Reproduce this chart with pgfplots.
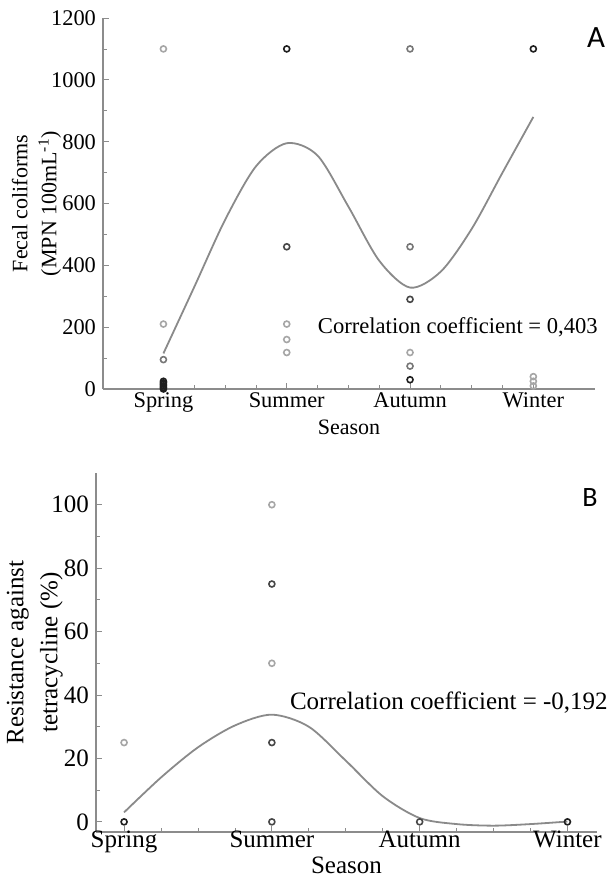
\documentclass[border=0pt]{standalone}
\usepackage{pgfplots}
\pgfplotsset{compat=1.18}
\usepackage{fontspec}
\setmainfont{Liberation Serif}
\newfontfamily\panelfont{Carlito}

\definecolor{lite}{HTML}{A6A6A6}
\definecolor{mid}{HTML}{777777}
\definecolor{dark}{HTML}{474747}
\definecolor{blk}{HTML}{1E1E1E}
\definecolor{axgray}{HTML}{8C8C8C}
\definecolor{fitgray}{HTML}{8A8A8A}

\pgfplotsset{
  season/.style={
    scale only axis,
    axis lines*=left,
    axis line style={axgray, line width=0.8pt, -},
    every tick/.style={axgray, line width=0.4pt},
    tick align=inside,
    major tick length=3pt, minor tick length=2pt,
    xtick={0,1,2,3},
    xticklabels={Spring,Summer,Autumn,Winter},
    minor x tick num=3,
    minor y tick num=1,
    /pgf/number format/assume math mode=true,
    /pgf/number format/1000 sep={},
    scaled y ticks=false,
    clip=false,
    ylabel style={align=center, anchor=center},
    xlabel style={anchor=center},
  },
  pts/.style={only marks, mark=o, mark size=1.5pt, line width=0.8pt,
    draw=#1, mark options={draw=#1}},
  fit/.style={fitgray, line width=0.9pt, smooth, no marks},
}

\begin{document}
\begin{tikzpicture}
\useasboundingbox (0,0) rectangle (304.5pt,-438pt);

% panel A
\begin{axis}[season,
  at={(51.5pt,-194.5pt)}, anchor=south west,
  width=246pt, height=185.5pt,
  xmin=-0.49, xmax=3.5, ymin=0, ymax=1200,
  ytick={0,200,...,1200},
  ticklabel style={font=\fontsize{11.2}{13}\selectfont},
  xticklabel style={yshift=1.5pt},
  label style={font=\fontsize{11}{14.5}\selectfont},
  ylabel={Fecal coliforms\\(MPN 100mL\textsuperscript{-1})},
  ylabel style={at={(axis description cs:-0.135,0.5)}},
  xlabel={Season},
  xlabel style={at={(axis description cs:0.5,-0.102)}},
]
\addplot[fit] coordinates {
  (0,115) (0.25,330) (0.5,547) (0.75,720) (1.0,795) (1.25,755) (1.5,590)
  (1.75,415) (2.0,328) (2.25,380) (2.5,518) (2.75,700) (3.0,880)
};
\addplot[pts=lite] coordinates {
  (0,1100) (0,210) (1,210) (1,160) (1,118) (2,118) (3,40) (3,25) (3,10)
};
\addplot[pts=mid] coordinates {
  (0,95) (2,1100) (2,460) (2,74)
};
\addplot[pts=dark] coordinates {
  (1,460) (2,290)
};
\addplot[pts=blk] coordinates {
  (0,0) (0,5) (0,10) (0,15) (0,20) (0,25) (1,1100) (2,30) (3,1100)
};
\node[anchor=west, inner sep=0, font=\fontsize{11.3}{13}\selectfont]
  at (axis cs:1.25,200) {Correlation coefficient = 0,403};
\end{axis}

% panel B
\begin{axis}[season,
  at={(48pt,-416pt)}, anchor=south west,
  width=250.5pt, height=179.5pt,
  xmin=-0.19, xmax=3.2, ymin=-3.2, ymax=110,
  ytick={0,20,...,100},
  ticklabel style={font=\fontsize{12.5}{14}\selectfont},
  xticklabel style={yshift=4pt},
  label style={font=\fontsize{12.5}{17}\selectfont},
  ylabel={Resistance against\\tetracycline (\%)},
  ylabel style={at={(axis description cs:-0.122,0.5)}},
  xlabel={Season},
  xlabel style={at={(axis description cs:0.5,-0.092)}},
]
\addplot[fit] coordinates {
  (0,3) (0.25,14) (0.5,23.5) (0.75,30.4) (1.0,33.8) (1.25,30) (1.5,19.3)
  (1.75,8.1) (2.0,1.2) (2.25,-0.7) (2.5,-1.2) (2.75,-0.7) (3.0,0.1)
};
\addplot[pts=lite] coordinates {
  (0,25) (1,100) (1,50)
};
\addplot[pts=dark] coordinates {
  (1,75) (1,25) (1,0) (2,0)
};
\addplot[pts=blk] coordinates {
  (0,0) (3,0)
};
\node[anchor=west, inner sep=0, font=\fontsize{12.5}{14}\selectfont]
  at (axis cs:1.12,37.5) {Correlation coefficient = -0,192};
\end{axis}

\node[font=\panelfont\fontsize{15.5}{18}\selectfont] at (298pt,-19pt) {A};
\node[font=\panelfont\fontsize{14}{16}\selectfont] at (295pt,-249pt) {B};
\end{tikzpicture}
\end{document}
